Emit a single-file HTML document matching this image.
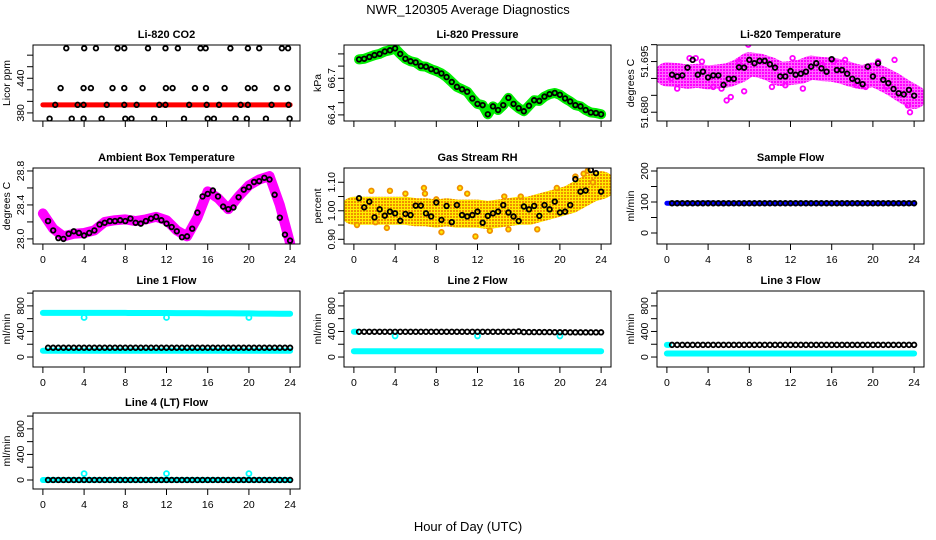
<!DOCTYPE html>
<html><head><meta charset="utf-8"><style>
html,body{margin:0;padding:0;background:#fff}
svg{display:block;font-family:"Liberation Sans",sans-serif}
</style></head><body>
<svg id="chart" width="936" height="540" viewBox="0 0 936 540" xmlns="http://www.w3.org/2000/svg">
<defs>
<pattern id="rhpat" width="3" height="3" patternUnits="userSpaceOnUse"><rect width="3" height="3" fill="#ffee00"/><rect width="2" height="2" fill="#f09000"/></pattern>
<pattern id="magpat" width="3" height="3" patternUnits="userSpaceOnUse"><rect width="3" height="3" fill="#ff66ff"/><rect width="2" height="2" fill="#ff00ff"/></pattern>
</defs>
<text x="468" y="14" font-size="13" text-anchor="middle">NWR_120305  Average Diagnostics</text>
<text x="468" y="531" font-size="13" text-anchor="middle">Hour of Day (UTC)</text>
</svg>
<script>
const H=[0.5,1,1.5,2,2.5,3,3.5,4,4.5,5,5.5,6,6.5,7,7.5,8,8.5,9,9.5,10,10.5,11,11.5,12,12.5,13,13.5,14,14.5,15,15.5,16,16.5,17,17.5,18,18.5,19,19.5,20,20.5,21,21.5,22,22.5,23,23.5,24];
const HB=[0,1,2,3,4,5,6,7,8,9,10,11,12,13,14,15,16,17,18,19,20,21,22,23,24];
const xTicks=[0,4,8,12,16,20,24];
const xTickLabels=["0","4","8","12","16","20","24"];
// CO2
const co2H=[2.27,4.01,5.15,7.25,7.9,10.2,11.9,13.1,15.3,15.8,18.2,19.9,21.0,23.2,23.8,1.72,3.95,4.66,6.76,7.9,9.68,11.94,12.59,14.76,15.83,17.64,19.9,20.55,22.7,23.75,1.2,3.37,3.95,6.2,7.9,9.1,11.3,11.9,14.2,15.9,17.1,19.2,19.9,22.2,23.85,0.65,2.8,3.95,5.7,8.0,8.6,10.8,13.7,16.0,16.6,18.7,19.8,21.65,23.95];
const co2V=[492,492,492,492,492,492,492,492,492,492,492,492,492,492,492,423,423,423,423,423,423,423,423,423,423,423,423,423,423,423,394,394,394,394,394,394,394,394,394,394,394,394,394,394,394,370,370,370,370,370,370,370,370,370,370,370,370,370,370];
const co2Band=[394,394,394,394,394,394,394,394,394,394,394,394,394,394,394,394,394,394,394,394,394,394,394,394,394];
const co2Ticks=[380,400,420,440,460,480];
const co2TickLabels=["380","","","440","",""];
// Pressure
const presV=[66.855,66.86,66.875,66.89,66.90,66.92,66.93,66.945,66.90,66.86,66.84,66.83,66.80,66.795,66.775,66.76,66.74,66.71,66.67,66.63,66.61,66.59,66.535,66.49,66.48,66.405,66.47,66.44,66.48,66.54,66.49,66.455,66.43,66.475,66.52,66.515,66.55,66.57,66.58,66.565,66.535,66.51,66.48,66.47,66.44,66.42,66.415,66.405];
const presTicks=[66.4,66.5,66.6,66.7,66.8,66.9];
const presTickLabels=["66.4","","","66.7","",""];
// Li-820 temperature
const ltV=[51.6911,51.6906,51.6909,51.6932,51.6955,51.6911,51.6920,51.6903,51.6909,51.6909,51.6881,51.6899,51.6899,51.6933,51.6932,51.6955,51.6945,51.6952,51.6952,51.6942,51.6932,51.6906,51.6906,51.6922,51.6911,51.6914,51.6920,51.6935,51.6945,51.6930,51.6920,51.6957,51.6925,51.6925,51.6914,51.6899,51.6893,51.6883,51.6935,51.6906,51.6945,51.6896,51.6886,51.6869,51.6856,51.6853,51.6866,51.6849];
const ltBand=[51.6912,51.6910,51.6905,51.6908,51.6903,51.6906,51.6910,51.6922,51.6942,51.6938,51.6928,51.6913,51.6916,51.6920,51.6932,51.6928,51.6926,51.6920,51.6910,51.6903,51.6912,51.6898,51.6882,51.6862,51.6845];
const ltOutH=[1.0,2.2,2.8,3.4,4.5,5.3,5.8,7.0,7.5,7.9,10.2,11.5,12.2,13.2,15.1,16.2,17.3,18.4,19.3,20.5,21.3,22.1,23.4,23.6,0.4,6.2];
const ltOutV=[51.6870,51.6960,51.6960,51.6950,51.6875,51.6870,51.6835,51.6950,51.6862,51.7000,51.6875,51.6880,51.6960,51.6870,51.6940,51.6950,51.6955,51.6880,51.6875,51.6950,51.6875,51.6955,51.6820,51.6800,51.6900,51.6845];
const ltTicks=[51.680,51.685,51.690,51.695,51.700];
const ltTickLabels=["51.680","","","51.695",""];
// Ambient box temperature
const abV=[28.21,28.10,28.01,28.0,28.06,28.09,28.07,28.04,28.07,28.10,28.17,28.19,28.21,28.21,28.22,28.21,28.24,28.19,28.18,28.21,28.24,28.26,28.22,28.18,28.14,28.09,28.02,28.03,28.12,28.31,28.50,28.53,28.57,28.50,28.38,28.35,28.37,28.49,28.58,28.61,28.67,28.68,28.72,28.70,28.52,28.25,28.05,27.98];
const abBand=[28.30,28.12,28.03,28.06,28.07,28.10,28.20,28.22,28.23,28.21,28.23,28.26,28.22,28.10,28.03,28.25,28.56,28.48,28.35,28.50,28.63,28.70,28.74,28.40,27.95];
const abTicks=[28.0,28.2,28.4,28.6,28.8];
const abTickLabels=["28.0","","28.4","","28.8"];
// Gas stream RH
const rhV=[1.044,1.012,1.032,0.977,1.005,0.983,0.997,0.991,0.965,0.989,0.985,1.018,1.018,0.991,0.980,1.029,0.968,1.017,0.960,1.020,0.985,0.980,0.985,0.997,0.958,0.982,0.991,0.997,1.020,0.994,0.980,0.964,1.015,1.005,1.017,0.982,1.020,1.005,1.032,0.994,0.997,1.020,1.111,1.067,1.071,1.143,1.132,1.067];
const rhBand=[1.0,1.0,1.0,1.0,1.0,1.0,0.995,0.995,0.99,0.995,0.99,0.99,0.99,0.985,0.99,0.995,1.0,1.0,1.01,1.02,1.03,1.04,1.06,1.08,1.09];
const rhOutH=[0.3,1.7,3.2,3.5,5.0,6.8,6.9,8.5,10.3,11.8,11.0,13.2,14.6,15.0,16.2,17.8,19.7,21.5,22.3,22.7,23.2,8.0,2.1];
const rhOutV=[0.95,1.07,0.94,1.07,1.06,1.08,1.06,0.925,1.08,0.91,1.06,0.93,1.05,0.935,1.05,0.935,1.08,1.12,1.13,1.14,1.10,1.04,0.96];
const rhTicks=[0.90,0.95,1.00,1.05,1.10];
const rhTickLabels=["0.90","","1.00","","1.10"];
// Sample flow
const sfBlack=[96,96,96,96,96,96,96,96,96,96,96,96,96,96,96,96,96,96,96,96,96,96,96,96,96,96,96,96,96,96,96,96,96,96,96,96,96,96,96,96,96,96,96,96,96,96,96,96];
const sfBand=[96,96,96,96,97,96,96,96,96,96,96,96,96,96,96,96,96,96,96,96,96,96,96,96,96];
const sfTicks=[0,50,100,150,200];
const sfTickLabels=["0","","100","","200"];
// Flows
const flowTicks=[0,200,400,600,800,1000];
const flowTickLabels=["0","","400","","800",""];
const dipH=[4,12,20];
const startH=[0,0.2];
const l1Black=[145,145,145,145,145,145,145,145,145,145,145,145,145,145,145,145,145,145,145,145,145,145,145,145,145,145,145,145,145,145,145,145,145,145,145,145,145,145,145,145,145,145,145,145,145,145,145,145];
const l1High=[690,690,690,690,690,690,690,690,690,688,688,688,688,686,686,686,684,684,684,682,682,680,680,678,678];
const l1Low=[99,99,99,99,99,99,99,99,99,99,99,99,99,99,99,99,99,99,99,99,99,99,99,99,99];
const l1Dip=[618,618,618];
const l2Black=[395,395,395,395,395,395,395,395,395,395,395,395,395,395,395,395,395,395,395,395,395,395,395,395,395,395,395,395,395,395,395,400,390,390,390,390,390,390,388,388,388,386,386,386,386,386,386,386];
const l2Low=[90,90,90,90,90,90,90,90,90,90,90,90,90,90,90,90,90,90,90,90,90,90,90,90,90];
const l2Dip=[330,330,330];
const l2Start=[395,395];
const l3Black=[190,190,190,190,190,190,190,190,190,190,190,190,190,190,190,190,190,190,190,190,190,190,190,190,190,190,190,190,190,190,190,190,190,190,190,190,190,190,190,190,190,190,190,190,190,190,190,190];
const l3Low=[55,55,55,55,55,55,55,55,55,55,55,55,55,55,55,55,55,55,55,55,55,55,55,55,55];
const l3Start=[190,190];
const l4Black=[0,0,0,0,0,0,0,0,0,0,0,0,0,0,0,0,0,0,0,0,0,0,0,0,0,0,0,0,0,0,0,0,0,0,0,0,0,0,0,0,0,0,0,0,0,0,0,0];
const l4Low=[0,0,0,0,0,0,0,0,0,0,0,0,0,0,0,0,0,0,0,0,0,0,0,0,0];
const l4Dip=[100,100,100];

const NS="http://www.w3.org/2000/svg";
const svg=document.getElementById('chart');
const colL=[33,344,657], rowT=[45,168,291,413], PW=267, PH=76;
function mk(tag,attrs,parent){const e=document.createElementNS(NS,tag);for(const k in attrs)e.setAttribute(k,attrs[k]);parent.appendChild(e);return e;}

function panel(col,row,title,ylab,ymin,ymax,yt,ytl,showX,name){
  const L=colL[col],T=rowT[row],B=T+PH,R=L+PW;
  const g=mk('g',{},svg);
  
  
  const xs=h=>L+PW*(0.96+h)/25.92;
  const ys=v=>B-(v-ymin)/(ymax-ymin)*PH;
  const clipId='clip-'+name;
  const cp=mk('clipPath',{id:clipId},g);mk('rect',{x:L,y:T,width:PW,height:PH},cp);
  const plot=mk('g',{'clip-path':'url(#'+clipId+')'},g);
  
  
  const t=mk('text',{x:(L+R)/2,y:T-7,'font-size':11,'font-weight':'bold','text-anchor':'middle'},g);t.textContent=title;
  
  
  const yl=mk('text',{x:0,y:0,'font-size':10.5,'text-anchor':'middle',transform:`translate(${L-23},${(T+B)/2}) rotate(-90)`},g);yl.textContent=ylab;
  
  
  const xa=mk('g',{},g);
  
  
  mk('line',{x1:xs(0),x2:xs(24),y1:B,y2:B,stroke:'#000'},xa);
  xTicks.forEach((h,i)=>{mk('line',{x1:xs(h),x2:xs(h),y1:B,y2:B+6,stroke:'#000'},xa);
    if(showX){const tx=mk('text',{x:xs(h),y:B+19,'font-size':10.5,'text-anchor':'middle'},xa);tx.textContent=xTickLabels[i];}});
  const ya=mk('g',{},g);
  
  
  mk('line',{x1:L,x2:L,y1:Math.min(B,ys(yt[0])),y2:Math.max(T,ys(yt[yt.length-1])),stroke:'#000'},ya);
  yt.forEach((v,i)=>{const y=ys(v);if(y<T-2||y>B+2)return;mk('line',{x1:L-6,x2:L,y1:y,y2:y,stroke:'#000'},ya);
    if(ytl[i]){const tx=mk('text',{x:0,y:0,'font-size':10.5,'text-anchor':'middle',transform:`translate(${L-9},${y}) rotate(-90)`},ya);tx.textContent=ytl[i];}});
  return {plot,xs,ys,g,box:()=>{const b=mk('rect',{x:L,y:T,width:PW,height:PH,fill:'none',stroke:'#000'},g);}};
}
function band(p,hx,vals,color,w,name){
  const pl=mk('polyline',{points:hx.map((h,i)=>p.xs(h)+','+p.ys(vals[i])).join(' '),fill:'none',stroke:color,'stroke-width':w,'stroke-linejoin':'round','stroke-linecap':'round'},p.plot);
  
  
}
function pts(p,hx,vals,color,r,sw,name,fill){
  const g=mk('g',{},p.plot);
  
  
  hx.forEach((h,i)=>{const c=mk('circle',{cx:p.xs(h),cy:p.ys(vals[i]),r:r,fill:fill||'none',stroke:color,'stroke-width':sw},g);
    
    });
}
let p;
p=panel(0,0,'Li-820 CO2','Licor ppm',366,497.6,co2Ticks,co2TickLabels,false,'co2');
band(p,HB,co2Band,'#ff0000',5,'co2-band');pts(p,co2H,co2V,'#000',2.3,1.8,'co2-avg');p.box();
p=panel(1,0,'Li-820 Pressure','kPa',66.35,66.973,presTicks,presTickLabels,false,'pressure');
band(p,H,presV,'#00ee00',10,'pressure-band');pts(p,H,presV,'#000',2.3,1.8,'pressure-avg');p.box();
p=panel(2,0,'Li-820 Temperature','degrees C',51.6774,51.6999,ltTicks,ltTickLabels,false,'li-temp');
band(p,HB,ltBand,'url(#magpat)',24,'li-temp-band');pts(p,ltOutH,ltOutV,'#ff00ff',2.3,1.8,'li-temp-outliers');pts(p,H,ltV,'#000',2.3,1.8,'li-temp-avg');p.box();
p=panel(0,1,'Ambient Box Temperature','degrees C',27.94,28.835,abTicks,abTickLabels,true,'ambient');
band(p,HB,abBand,'#ff00ff',10,'ambient-band');pts(p,H,abV,'#000',2.3,1.8,'ambient-avg');p.box();
p=panel(1,1,'Gas Stream RH','percent',0.8835,1.15,rhTicks,rhTickLabels,true,'rh');
band(p,HB,rhBand,'url(#rhpat)',28,'rh-band');pts(p,rhOutH,rhOutV,'#f09000',2.3,1.8,'rh-outliers','#ffee00');pts(p,H,rhV,'#000',2.3,1.8,'rh-avg');p.box();
p=panel(2,1,'Sample Flow','ml/min',-35.5,209.7,sfTicks,sfTickLabels,true,'sample-flow');
band(p,HB,sfBand,'#0000ff',5,'sample-flow-band');pts(p,H,sfBlack,'#000',2.3,1.8,'sample-flow-avg');p.box();
p=panel(0,2,'Line 1 Flow','ml/min',-156,1033,flowTicks,flowTickLabels,true,'line1');
band(p,HB,l1High,'#00ffff',6,'line1-high-band');band(p,HB,l1Low,'#00ffff',6,'line1-low-band');pts(p,dipH,l1Dip,'#00ffff',2.5,1.8,'line1-dips');pts(p,H,l1Black,'#000',2.3,1.8,'line1-avg');p.box();
p=panel(1,2,'Line 2 Flow','ml/min',-156,1033,flowTicks,flowTickLabels,true,'line2');
band(p,HB,l2Low,'#00ffff',6,'line2-low-band');band(p,startH,l2Start,'#00ffff',6,'line2-start');pts(p,dipH,l2Dip,'#00ffff',2.5,1.8,'line2-dips');pts(p,H,l2Black,'#000',2.3,1.8,'line2-avg');p.box();
p=panel(2,2,'Line 3 Flow','ml/min',-156,1033,flowTicks,flowTickLabels,true,'line3');
band(p,HB,l3Low,'#00ffff',6,'line3-low-band');band(p,startH,l3Start,'#00ffff',6,'line3-start');pts(p,H,l3Black,'#000',2.3,1.8,'line3-avg');p.box();
p=panel(0,3,'Line 4 (LT) Flow','ml/min',-141,1048,flowTicks,flowTickLabels,true,'line4');
band(p,HB,l4Low,'#00ffff',6,'line4-band');pts(p,dipH,l4Dip,'#00ffff',2.5,1.8,'line4-dips');pts(p,H,l4Black,'#000',2.3,1.8,'line4-avg');p.box();
</script>
</body></html>
